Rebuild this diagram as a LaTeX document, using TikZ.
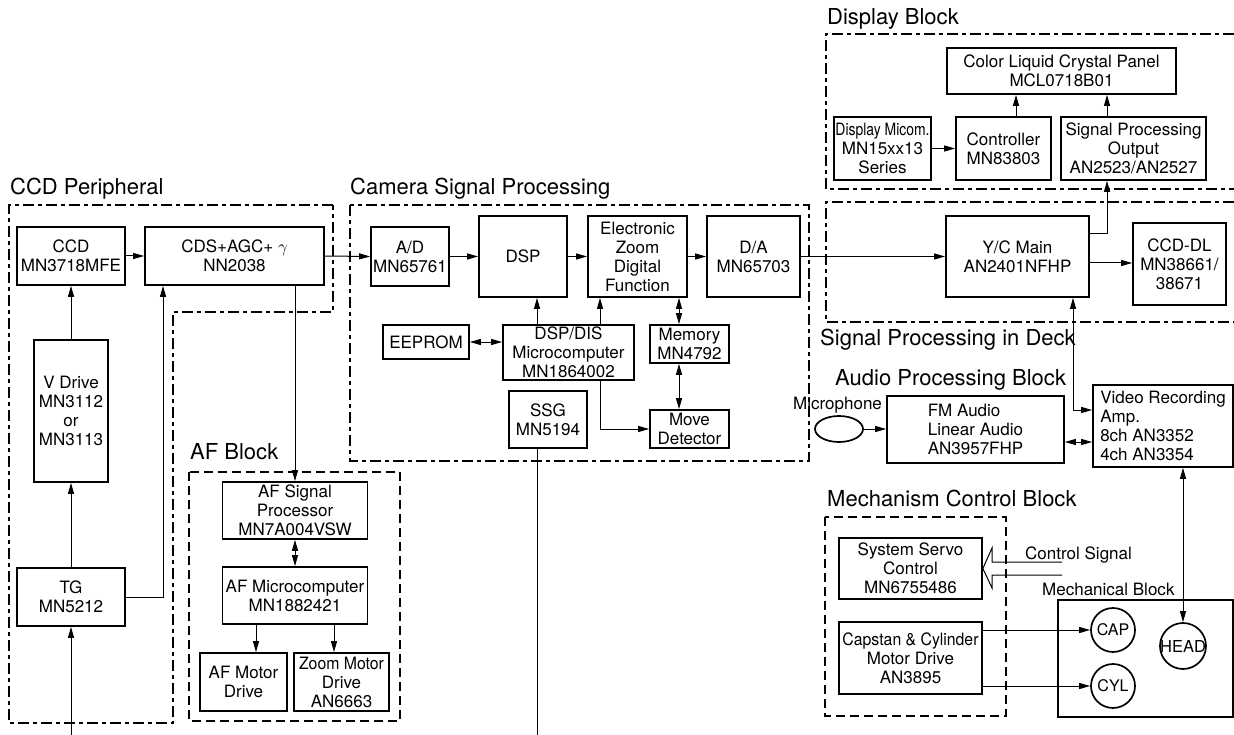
\documentclass[tikz,border=0pt]{standalone}
\usepackage{fontspec}
\setmainfont{TeX Gyre Heros}
\newfontfamily\condfont{TeX Gyre Heros}[FakeStretch=0.82]
\newfontfamily\semicondfont{TeX Gyre Heros}[FakeStretch=0.93]
\usetikzlibrary{arrows.meta,shapes.geometric,calc}
\begin{document}
\begin{tikzpicture}[x=1pt,y=-1pt,
 box/.style={draw, line width=1.7pt, align=center, inner sep=1pt, font=\fontsize{17}{19}\selectfont},
 arr/.style={line width=1pt, -{Triangle[length=11pt,width=6pt]}},
 darr/.style={line width=1pt, {Triangle[length=11pt,width=6pt]}-{Triangle[length=11pt,width=6pt]}},
 ln/.style={line width=1pt},
 border/.style={line width=1.3pt, dash pattern=on 11pt off 4pt on 4pt off 4pt},
 dborder/.style={line width=1.3pt, dash pattern=on 9pt off 5pt},
 title/.style={anchor=base west, inner sep=0pt, font=\fontsize{22}{24}\selectfont},
 lbl/.style={anchor=base west, inner sep=0pt, font=\fontsize{17}{19}\selectfont},
 rnd/.style={circle, draw, line width=1.7pt, inner sep=0pt},
]
\useasboundingbox (0,0) rectangle (1234,735);

% helper coordinates
\coordinate (x537) at (537,0);
\coordinate (x600) at (600,0);
\coordinate (x679) at (679,0);
\coordinate (x163) at (163,0);
\coordinate (x256) at (256,0);
\coordinate (x334) at (334,0);
\coordinate (x1016) at (1016,0);
\coordinate (x1107) at (1107,0);
\coordinate (x1073) at (1073,0);
\coordinate (y234) at (0,234);
\coordinate (y263) at (0,263);
\coordinate (y410) at (0,410);
\coordinate (y442) at (0,442);
\coordinate (y597) at (0,597);
\coordinate (bottom) at (0,735);

% block borders
\draw[border] (333,205) -- (9,205) -- (9,723) -- (173,723) -- (173,312) -- (333,312) -- cycle;
\draw[border] (350,205) rectangle (809,461);
\draw[dborder] (189,472) rectangle (400,721);
\draw[border] (1234,34) -- (826,34) -- (826,189) -- (1234,189);
\draw[border] (1234,202) -- (826,202) -- (826,322) -- (1234,322);
\draw[dborder] (825,517) rectangle (1006,716);

% titles
\node[title] (tCCD) at (10,195) {CCD Peripheral};
\node[title] (tCam) at (350,195) {Camera Signal Processing};
\node[title] (tAF) at (190,459) {AF Block};
\node[title] (tDisp) at (827,25) {Display Block};
\node[title] (tDeck) at (820,345) {Signal Processing in Deck};
\node[title] (tAud) at (835,385) {Audio Processing Block};
\node[title] (tMech) at (827,506) {Mechanism Control Block};
\node[lbl] (tMic) at (793,409) {Microphone};
\node[lbl] (tCS) at (1025,559) {Control Signal};
\node[lbl] (tMB) at (1042,595) {Mechanical Block};

% CCD peripheral
\node[box, minimum width=108pt, minimum height=58pt] (CCD) at (71,256) {CCD\\MN3718MFE};
\node[box, minimum width=179pt, minimum height=58pt] (CDS) at (234.5,256) {CDS+AGC+ $\gamma$\\NN2038};
\node[box, minimum width=74pt, minimum height=142pt] (VD) at (71,411) {V Drive\\MN3112\\or\\MN3113};
\node[box, minimum width=108pt, minimum height=58pt] (TG) at (71,597) {TG\\MN5212};

% camera signal processing
\node[box, minimum width=78pt, minimum height=59pt] (AD) at (410,256.5) {A/D\\MN65761};
\node[box, minimum width=88pt, minimum height=81pt] (DSP) at (523,256.5) {DSP};
\node[box, minimum width=99pt, minimum height=81pt] (EZ) at (637.5,256.5) {Electronic\\Zoom\\Digital\\Function};
\node[box, minimum width=93pt, minimum height=81pt] (DA) at (753.5,256.5) {D/A\\MN65703};
\node[box, minimum width=86pt, minimum height=34pt] (EEP) at (426,342) {EEPROM};
\node[box, minimum width=131pt, minimum height=55pt] (DSPDIS) at (568.5,352.5) {DSP/DIS\\Microcomputer\\MN1864002};
\node[box, minimum width=79pt, minimum height=38pt] (MEM) at (689.5,344) {Memory\\MN4792};
\node[box, minimum width=78pt, minimum height=57pt] (SSG) at (548,419.5) {SSG\\MN5194};
\node[box, minimum width=79pt, minimum height=38pt] (MOVE) at (689.5,429) {Move\\Detector};

% AF block
\node[box, minimum width=145pt, minimum height=57pt] (AFSP) at (295,510.5) {AF Signal\\Processor\\MN7A004VSW};
\node[box, minimum width=145pt, minimum height=57pt] (AFMC) at (295,595.5) {AF Microcomputer\\MN1882421};
\node[box, minimum width=87pt, minimum height=58pt] (AFMD) at (243.5,682) {AF Motor\\Drive};
\node[box, minimum width=95pt, minimum height=58pt] (ZMD) at (341.5,682) {{\semicondfont Zoom Motor}\\Drive\\AN6663};

% display block
\node[box, minimum width=229pt, minimum height=46pt] (LCP) at (1061.5,71) {Color Liquid Crystal Panel\\MCL0718B01};
\node[box, minimum width=97pt, minimum height=63pt] (MICOM) at (882.5,148.5) {{\condfont Display Micom.}\\MN15xx13\\Series};
\node[box, minimum width=95pt, minimum height=63pt] (CTRL) at (1003.5,148.5) {Controller\\MN83803};
\node[box, minimum width=145pt, minimum height=63pt] (SPO) at (1133.5,148.5) {Signal Processing\\Output\\AN2523/AN2527};

% deck
\node[box, minimum width=143pt, minimum height=81pt] (YC) at (1017.5,256.5) {Y/C Main\\AN2401NFHP};
\node[box, minimum width=93pt, minimum height=82pt] (CCDDL) at (1179.5,264) {CCD-DL\\MN38661/\\38671};

% audio
\node[ellipse, draw, line width=1.7pt, minimum width=48pt, minimum height=26pt, inner sep=0pt] (MIC) at (839,429) {};
\node[box, align=left, minimum width=177pt, minimum height=67pt] (FM) at (975.5,429.5) {FM Audio\\Linear Audio\\AN3957FHP};
\node[box, align=left, minimum width=140pt, minimum height=82pt] (VR) at (1163,426) {Video Recording\\Amp.\\8ch AN3352\\4ch AN3354};

% mechanism
\node[box, minimum width=143pt, minimum height=61pt] (SSC) at (910.5,568.5) {System Servo\\Control\\MN6755486};
\node[box, minimum width=143pt, minimum height=72pt] (CAPD) at (910.5,658) {{\semicondfont Capstan \& Cylinder}\\Motor Drive\\AN3895};
\node[draw, line width=1.7pt, minimum width=175pt, minimum height=117pt] (MB) at (1145.5,658.5) {};
\node[rnd, minimum size=44pt] (CAP) at (1113,630) {};
\node[rnd, minimum size=44pt] (CYL) at (1113,686) {};
\node[rnd, minimum size=46pt] (HEAD) at (1183,646) {};
\node[font=\fontsize{16}{18}\selectfont] (tCAP) at (CAP) {CAP};
\node[font=\fontsize{16}{18}\selectfont] (tCYL) at (CYL) {CYL};
\node[font=\fontsize{16.5}{18}\selectfont, inner sep=0pt] (tHEAD) at (HEAD) {HEAD};

% connectors: CCD peripheral
\draw[arr] (CCD.east) -- (CDS.west);
\draw[arr] (VD.north) -- (VD.north |- CCD.south);
\draw[arr] (TG.north) -- (TG.north |- VD.south);
\draw[arr] (TG.south |- bottom) -- (TG.south);
\draw[arr] (TG.east |- y597) -- (x163 |- y597) -- (x163 |- CDS.south);
\draw[arr] (CDS.east) -- (AD.west);
\draw[arr] (AFSP.north |- CDS.south) -- (AFSP.north);

% camera signal processing
\draw[arr] (AD.east) -- (AD.east -| DSP.west);
\draw[arr] (DSP.east) -- (EZ.west);
\draw[arr] (EZ.east) -- (DA.west);
\draw[arr] (DA.east) -- (DA.east -| YC.west);
\draw[arr] (x537 |- DSPDIS.north) -- (x537 |- DSP.south);
\draw[arr] (x600 |- DSPDIS.north) -- (x600 |- EZ.south);
\draw[darr] (x679 |- EZ.south) -- (x679 |- MEM.north);
\draw[darr] (x679 |- MEM.south) -- (x679 |- MOVE.north);
\draw[darr] (EEP.east) -- (EEP.east -| DSPDIS.west);
\draw[arr] (x600 |- DSPDIS.south) |- (MOVE.west);
\draw[ln] (x537 |- SSG.south) -- (x537 |- bottom);

% AF block
\draw[darr] (AFSP.south) -- (AFMC.north);
\draw[arr] (x256 |- AFMC.south) -- (x256 |- AFMD.north);
\draw[arr] (x334 |- AFMC.south) -- (x334 |- ZMD.north);

% display block
\draw[arr] (MICOM.east) -- (CTRL.west);
\draw[arr] (x1016 |- CTRL.north) -- (x1016 |- LCP.south);
\draw[arr] (x1107 |- SPO.north) -- (x1107 |- LCP.south);
\draw[arr] (YC.east |- y234) -| (x1107 |- SPO.south);
\draw[arr] (YC.east |- y263) -- (CCDDL.west |- y263);
\draw[darr] (x1073 |- YC.south) |- (VR.west |- y410);

% audio
\draw[arr] (MIC.east) -- (MIC.east -| FM.west);
\draw[darr] (FM.east |- y442) -- (VR.west |- y442);
\draw[darr] (HEAD.north |- VR.south) -- (HEAD.north);

% mechanism
\coordinate (cs1) at (1062,562);
\coordinate (cs2) at (1062,575);
\draw[line width=1pt] (cs1) -- (992,562) -- (992,548) -- (SSC.east) -- (992,588) -- (992,575) -- (cs2);
\draw[arr] (CAPD.east |- CAP.west) -- (CAP.west);
\draw[arr] (CAPD.east |- CYL.west) -- (CYL.west);
\end{tikzpicture}
\end{document}
